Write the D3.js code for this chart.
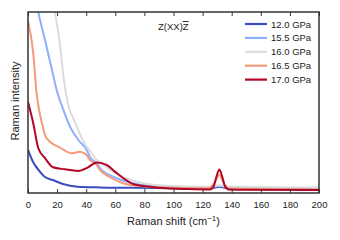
<!DOCTYPE html>
<html><head><meta charset="utf-8">
<script src="https://cdn.jsdelivr.net/npm/d3@7"></script>
<style>
body{margin:0;background:#fff;}
svg{display:block;font-family:"Liberation Sans",Arial,sans-serif;}
</style></head>
<body><svg id="c" width="340" height="240"></svg>
<script>
// ---- data (Raman shift in cm^-1, intensity in arbitrary units) ----
const labels = ["12.0 GPa","15.5 GPa","16.0 GPa","16.5 GPa","17.0 GPa"];
const colors = ["#3b4cc0","#8db0fe","#dddcdc","#f49a7b","#b40426"];

const shift120 = [0,3.4,8.2,11.7,17,24,34,49,72,100,124,128,131.5,135,140,170,200];
const int120   = [23.8,17.3,11.8,8.8,7.2,5.0,3.5,3.1,2.9,2.6,2.4,2.9,3.5,2.9,2.3,2.1,2.0];

const shift155 = [0,3.5,7.1,11.7,16.5,19.7,24.3,28.9,34.6,40.3,42.6,47.2,49.5,58.4,72.2,90,124,128,131.5,135,140,200];
const int155   = [135,117,100,84.5,68.0,56.9,45.9,36.6,29.3,23.8,19.9,16.4,13.8,9.0,5.4,3.6,3.0,3.4,4.0,3.4,2.8,2.4];

const shift160 = [0,8,14,18.6,22.0,24.7,27.5,32.3,37.9,43.8,47.2,49.5,56.4,67.8,79,95.5,124,128,131.5,135,140,170,200];
const int160   = [215,165,128,100,81.8,62.4,49.2,39.2,28.7,21.9,18.2,17.1,12.7,8.1,5.4,4.0,3.5,3.8,4.2,3.8,3.4,3.2,3.0];

const shift165 = [0,3.6,5.8,7.6,9.4,11.7,15.1,22.0,30.0,35.7,40.3,42.6,46.7,49.5,56.4,65.3,77,100,124,128,131.5,134.5,138,200];
const int165   = [95.0,77.3,55.8,45.9,39.2,32.0,28.3,25.1,21.9,22.8,21.0,18.2,16.0,12.7,8.7,5.4,3.9,2.9,2.6,5.5,10,5.5,2.5,2.0];

const shift170 = [0,3.6,7.1,11.7,17.2,25.4,34.4,41.2,47.2,54,59.8,65.3,72.2,83.8,95.5,110,125,127.5,129.5,131.5,133.5,135.5,138,150,200];
const int170   = [50.4,38.5,24.7,19.3,14.2,13.1,12.2,14.2,16.9,15.5,11.8,8.3,5.0,3.5,2.6,2.2,2.0,3.5,9,13,9,3.5,2.0,1.8,1.7];

const xTicks = [0,20,40,60,80,100,120,140,160,180,200];

const seriesX = [shift120,shift155,shift160,shift165,shift170];
const seriesY = [int120,int155,int160,int165,int170];

// ---- layout ----
const L=28, R=319, T=12, B=193;
const svg = d3.select("#c");
const x = d3.scaleLinear().domain([0,200]).range([L,R]);
const y = d3.scaleLinear().domain([0,100]).range([B,T]);

svg.append("defs").append("clipPath").attr("id","clip")
  .append("rect").attr("x",L).attr("y",T).attr("width",R-L).attr("height",B-T);

const line = d3.line().x(d=>x(d[0])).y(d=>y(d[1])).curve(d3.curveMonotoneX);
const g = svg.append("g").attr("clip-path","url(#clip)");
seriesX.forEach((xs,i)=>{
  const pts = xs.map((v,j)=>[v,seriesY[i][j]]);
  g.append("path").datum(pts).attr("d",line)
    .attr("fill","none").attr("stroke",colors[i]).attr("stroke-width",2)
    .attr("stroke-linejoin","round");
});

// axes
const axB = d3.axisBottom(x).tickValues(xTicks).tickSizeInner(-4).tickSizeOuter(0).tickPadding(8);
const axT = d3.axisTop(x).tickValues(xTicks).tickSizeInner(-4).tickSizeOuter(0).tickFormat("");
const gb = svg.append("g").attr("transform",`translate(0,${B})`).call(axB);
const gt = svg.append("g").attr("transform",`translate(0,${T})`).call(axT);
[gb,gt].forEach(a=>{
  a.select(".domain").remove();
  a.selectAll(".tick line").attr("stroke","#333").attr("stroke-width",1);
});
gb.selectAll(".tick text").attr("font-size",9.5).attr("fill","#222")
  .attr("font-family","Liberation Sans, Arial, sans-serif");

svg.append("rect").attr("x",L).attr("y",T).attr("width",R-L).attr("height",B-T)
  .attr("fill","none").attr("stroke","#333").attr("stroke-width",1.5);

// axis labels
const xl = svg.append("text").attr("x",(L+R)/2).attr("y",225).attr("text-anchor","middle")
  .attr("font-size",11).attr("fill","#222");
xl.append("tspan").text("Raman shift (cm");
xl.append("tspan").attr("font-size",8).attr("dy",-4).text("\u22121");
xl.append("tspan").attr("dy",4).text(")");

svg.append("text").attr("transform","translate(19,101) rotate(-90)").attr("text-anchor","middle")
  .attr("font-size",11).attr("fill","#222").text("Raman intensity");

// annotation
const an = svg.append("text").attr("x",158).attr("y",30).attr("font-size",9.5).attr("fill","#222");
an.append("tspan").text("Z(XX)");
an.append("tspan").attr("text-decoration","overline").text("Z");

// legend
const lg = svg.append("g");
labels.forEach((lab,i)=>{
  const yy = 24 + i*13.9;
  lg.append("line").attr("x1",245).attr("x2",267).attr("y1",yy).attr("y2",yy)
    .attr("stroke",colors[i]).attr("stroke-width",2.2);
  lg.append("text").attr("x",271).attr("y",yy+3.5).attr("font-size",9.5).attr("fill","#222").text(lab);
});
</script></body></html>
